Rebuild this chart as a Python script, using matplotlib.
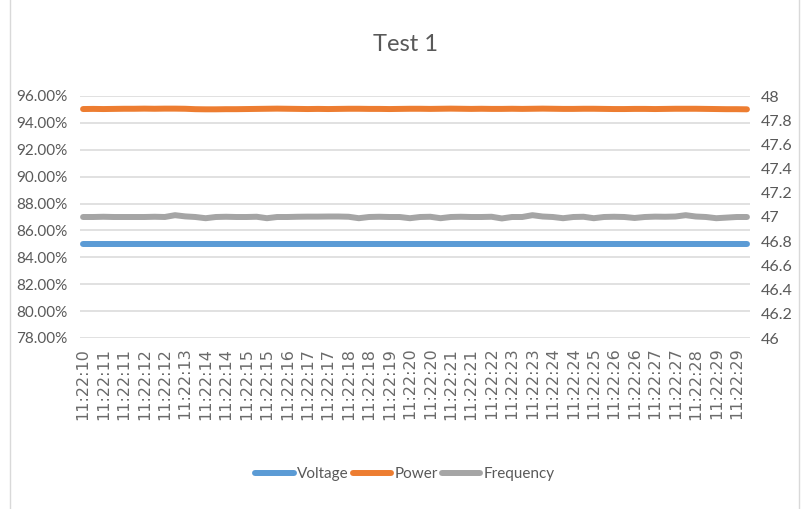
import matplotlib
matplotlib.use("Agg")
import matplotlib.pyplot as plt
from matplotlib.lines import Line2D
from matplotlib.ticker import FuncFormatter, MultipleLocator

# ---- data ----
tick_labels = ["11:22:10", "11:22:11", "11:22:11", "11:22:12", "11:22:12", "11:22:13",
               "11:22:14", "11:22:14", "11:22:15", "11:22:15", "11:22:16", "11:22:17",
               "11:22:17", "11:22:18", "11:22:18", "11:22:19", "11:22:20", "11:22:20",
               "11:22:21", "11:22:21", "11:22:22", "11:22:23", "11:22:23", "11:22:24",
               "11:22:24", "11:22:25", "11:22:26", "11:22:26", "11:22:27", "11:22:27",
               "11:22:28", "11:22:29", "11:22:29"]

voltage = [0.85] * 66

power = [0.9503, 0.9504, 0.9503, 0.9504, 0.9505, 0.9505, 0.9506, 0.9505, 0.9506, 0.9506,
         0.9505, 0.9502, 0.9501, 0.9501, 0.9502, 0.9502, 0.9503, 0.9504, 0.9505, 0.9506,
         0.9505, 0.9504, 0.9503, 0.9504, 0.9503, 0.9504, 0.9505, 0.9505, 0.9504, 0.9504,
         0.9503, 0.9504, 0.9505, 0.9505, 0.9504, 0.9505, 0.9506, 0.9505, 0.9504, 0.9505,
         0.9504, 0.9504, 0.9505, 0.9504, 0.9505, 0.9506, 0.9505, 0.9504, 0.9504, 0.9505,
         0.9505, 0.9504, 0.9503, 0.9503, 0.9504, 0.9504, 0.9503, 0.9504, 0.9505, 0.9505,
         0.9505, 0.9504, 0.9503, 0.9502, 0.9502, 0.9501]

frequency = [47.0, 47.0, 47.002, 47.0, 47.0, 47.0, 47.0, 47.002, 47.0, 47.015,
             47.005, 47.0, 46.99, 47.0, 47.002, 47.0, 47.0, 47.002, 46.99, 47.0,
             47.0, 47.002, 47.003, 47.003, 47.004, 47.004, 47.002, 46.99, 47.0, 47.002,
             47.0, 47.0, 46.99, 47.0, 47.002, 46.99, 47.0, 47.002, 47.0, 47.0,
             47.002, 46.988, 47.0, 47.0, 47.015, 47.004, 47.0, 46.99, 47.0, 47.002,
             46.99, 47.0, 47.002, 47.0, 46.992, 47.0, 47.003, 47.002, 47.004, 47.015,
             47.004, 47.0, 46.99, 46.995, 47.0, 47.0]

series_names = ["Voltage", "Power", "Frequency"]
colors = ["#5B9BD5", "#ED7D31", "#A5A5A5"]

# ---- figure ----
txt = "#595959"
fig = plt.figure(figsize=(8.02, 5.09), dpi=100)
ax = fig.add_axes([80 / 802, 1 - 338 / 509, 670 / 802, 242 / 509])
ax2 = ax.twinx()

x = list(range(len(voltage)))
lw = 4.3
l1, = ax.plot(x, voltage, color=colors[0], lw=lw, solid_capstyle="round", zorder=3)
l2, = ax.plot(x, power, color=colors[1], lw=lw, solid_capstyle="round", zorder=3)
l3, = ax2.plot(x, frequency, color=colors[2], lw=lw, solid_capstyle="round", zorder=3)

ax.set_ylim(0.78, 0.96)
ax2.set_ylim(46, 48)
ax.yaxis.set_major_locator(MultipleLocator(0.02))
ax2.yaxis.set_major_locator(MultipleLocator(0.2))
ax.yaxis.set_major_formatter(FuncFormatter(lambda v, p: f"{v*100:.2f}%"))
ax2.yaxis.set_major_formatter(FuncFormatter(lambda v, p: f"{v:g}"))
ax.set_xlim(-0.3, len(x) - 1 + 0.3)

ax.grid(axis="y", color="#D9D9D9", lw=1.1)
ax.set_axisbelow(True)
for a in (ax, ax2):
    for s in a.spines.values():
        s.set_visible(False)
    a.tick_params(length=0)

ax.set_xticks(x[::2])
ax.set_xticklabels(tick_labels, rotation=90, fontsize=11.5, color="#6a6a6a",
                   family="DejaVu Sans")
ax.tick_params(axis="x", pad=7)
for lab in ax.get_yticklabels():
    lab.set_family("Lato"); lab.set_fontsize(11); lab.set_color(txt)
for lab in ax2.get_yticklabels():
    lab.set_family("Lato"); lab.set_fontsize(11.5); lab.set_color(txt)
ax.tick_params(axis="y", pad=9)
ax2.tick_params(axis="y", pad=8)

fig.text(0.505, 0.912, "Test 1", ha="center", va="center", fontsize=17,
         color=txt, family="Lato")

leg = fig.legend([l1, l2, l3], series_names, loc="center", ncol=3,
                 bbox_to_anchor=(0.505, 0.069), frameon=False,
                 prop={"family": "Lato", "size": 11}, handlelength=2.5,
                 handletextpad=0.2, columnspacing=0.3)
for t in leg.get_texts():
    t.set_color(txt)

# chart frame edges
fig.add_artist(Line2D([10 / 802, 10 / 802], [0, 1], color="#D9D9D9", lw=1))
fig.add_artist(Line2D([799 / 802, 799 / 802], [0, 1], color="#D9D9D9", lw=1))

fig.savefig("out.png", dpi=100)
